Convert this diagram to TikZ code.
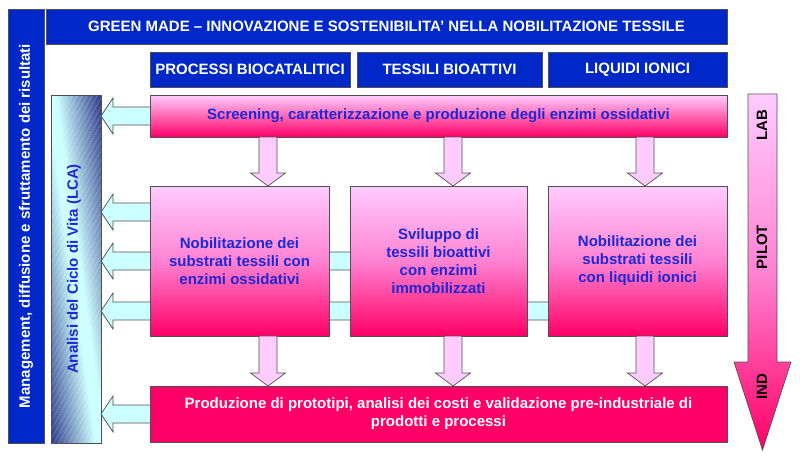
\documentclass[tikz,border=0pt]{standalone}
\usepackage{fontspec}
\setmainfont{Liberation Sans}
\usetikzlibrary{calc}
\definecolor{gmblue}{RGB}{0,40,200}
\definecolor{gmtext}{RGB}{30,40,210}
\definecolor{lpink}{RGB}{255,204,255}
\definecolor{mpink}{RGB}{255,130,210}
\definecolor{dpink}{RGB}{255,0,102}
\definecolor{lcyan}{RGB}{204,255,255}
\definecolor{navy}{RGB}{45,55,135}
\definecolor{edge}{RGB}{80,80,80}
\tikzset{
  base/.style={inner sep=0pt,outer sep=0pt,draw=edge,line width=0.8pt,align=center,font=\bfseries\fontsize{15}{18}\selectfont},
  bluebox/.style={base,fill=gmblue,text=white},
  pinkbox/.style={base,top color=lpink,bottom color=dpink,middle color=mpink,text=gmtext},
  redbox/.style={base,fill=dpink,text=white},
  lcabar/.style={base,draw=none},
  leftarr/.style={fill=lcyan,draw=edge,line width=0.7pt,line join=miter},
  downarr/.style={fill=lpink,draw=edge,line width=0.7pt,line join=miter},
  vlabel/.style={rotate=90,font=\bfseries\fontsize{15}{18}\selectfont,inner sep=0pt},
}
\newcommand\larrow[2]{%
  \path[leftarr] let \p1=(#1), \p2=(#2) in
    (\x1,\y1+9pt) -- (\x2+12pt,\y1+9pt) -- (\x2+12pt,\y1+18pt) -- (\x2,\y1)
    -- (\x2+12pt,\y1-18pt) -- (\x2+12pt,\y1-9pt) -- (\x1,\y1-9pt) -- cycle;}
\newcommand\darrow[2]{%
  \path[downarr] let \p1=(#1), \p2=(#2) in
    (\x1-9pt,\y1) -- (\x1-9pt,\y2+13pt) -- (\x1-17.5pt,\y2+13pt) -- (\x1,\y2)
    -- (\x1+17.5pt,\y2+13pt) -- (\x1+9pt,\y2+13pt) -- (\x1+9pt,\y1) -- cycle;}
\begin{document}
\begin{tikzpicture}[x=1pt,y=-1pt]
\useasboundingbox (0,0) rectangle (800,458);
% management bar
\node[bluebox,anchor=center,rotate=90,minimum width=434,minimum height=36] (mgmt) at (26,226)
  {Management, diffusione e sfruttamento dei risultati};
% title
\node[bluebox,anchor=north west,minimum width=681,minimum height=35] (title) at (46,9)
  {GREEN MADE -- INNOVAZIONE E SOSTENIBILITA' NELLA NOBILITAZIONE TESSILE};
% categories
\node[bluebox,anchor=north west,minimum width=200,minimum height=35] (cat1) at (150,52) {PROCESSI BIOCATALITICI};
\node[bluebox,anchor=north west,minimum width=185,minimum height=35] (cat2) at (357,52) {TESSILI BIOATTIVI};
\node[bluebox,anchor=north west,minimum width=179,minimum height=35] (cat3) at (548,52) {LIQUIDI IONICI};
% LCA bar with diagonal gradient
\node[lcabar,anchor=north west,minimum width=50,minimum height=348] (lca) at (51,95) {};
\begin{scope}
  \clip (lca.north west) rectangle (lca.south east);
  \foreach \i in {0,...,79}{
    \pgfmathsetmacro\a{-1+\i*0.025}
    \pgfmathsetmacro\m{abs(\a+0.0125)}
    \pgfmathsetmacro\p{max(0,min(100,(\m-0.1)/0.9*100))}
    \fill[navy!\p!lcyan] ({51+50*\a},94) -- ({51+50*(\a+0.028)},94)
      -- ({51+50*(\a+1.028)},444) -- ({51+50*(\a+1)},444) -- cycle;
  }
\end{scope}
\draw[edge,line width=0.8pt] (lca.north west) rectangle (lca.south east);
\node[vlabel,text=gmtext] (lcat) at ($(lca.center)+(-2,0)$) {Analisi del Ciclo di Vita (LCA)};
% left arrows (drawn first so boxes cover them)
\coordinate (s0) at (155,116);
\coordinate (s1) at (155,212);
\coordinate (s2) at (355,261);
\coordinate (s3) at (553,311);
\coordinate (s4) at (155,414);
\larrow{s0}{lca.east|-s0}
\larrow{s1}{lca.east|-s1}
\larrow{s2}{lca.east|-s2}
\larrow{s3}{lca.east|-s3}
\larrow{s4}{lca.east|-s4}
% screening
\node[pinkbox,anchor=north west,minimum width=577,minimum height=42,
  top color=lpink,middle color=lpink!60!mpink,bottom color=dpink] (scr) at (150,95)
  {Screening, caratterizzazione e produzione degli enzimi ossidativi};
% middle boxes
\node[pinkbox,anchor=north west,minimum width=179,minimum height=150] (b1) at (150,186)
  {Nobilitazione dei\\substrati tessili con\\enzimi ossidativi};
\node[pinkbox,anchor=north west,minimum width=177,minimum height=150] (b2) at (350,186)
  {Sviluppo di\\tessili bioattivi\\con enzimi\\immobilizzati};
\node[pinkbox,anchor=north west,minimum width=179,minimum height=150] (b3) at (548,186)
  {Nobilitazione dei\\substrati tessili\\con liquidi ionici};
% bottom box
\node[redbox,anchor=north west,minimum width=577,minimum height=56] (prod) at (150,386)
  {Produzione di prototipi, analisi dei costi e validazione pre-industriale di\\prodotti e processi};
% down arrows
\coordinate (d1) at (268,0);
\coordinate (d2) at (453,0);
\coordinate (d3) at (645,0);
\darrow{d1|-scr.south}{d1|-b1.north}
\darrow{d2|-scr.south}{d2|-b2.north}
\darrow{d3|-scr.south}{d3|-b3.north}
\darrow{d1|-b1.south}{d1|-prod.north}
\darrow{d2|-b2.south}{d2|-prod.north}
\darrow{d3|-b3.south}{d3|-prod.north}
% right scale arrow
\coordinate (rtop) at (762.5,94);
\coordinate (rtip) at (762.5,450);
\path[top color=lpink,bottom color=dpink,middle color=mpink,draw=edge,line width=0.7pt]
  let \p1=(rtop), \p2=(rtip) in
  (\x1-14.5pt,\y1) -- (\x1+14.5pt,\y1) -- (\x1+14.5pt,\y2+88pt) -- (\x1+28.5pt,\y2+88pt)
  -- (\x2,\y2) -- (\x1-28.5pt,\y2+88pt) -- (\x1-14.5pt,\y2+88pt) -- cycle;
\node[vlabel] (lab) at (762,125) {LAB};
\node[vlabel] (pilot) at (762,247) {PILOT};
\node[vlabel] (ind) at (762,387) {IND};
\end{tikzpicture}
\end{document}
